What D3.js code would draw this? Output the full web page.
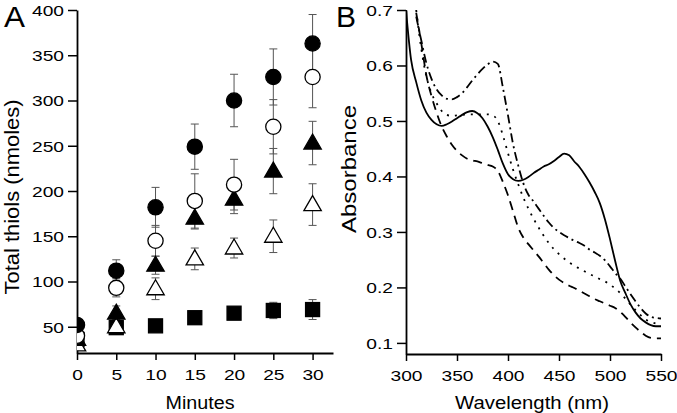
<!DOCTYPE html>
<html><head><meta charset="utf-8">
<script src="https://cdn.jsdelivr.net/npm/d3@7"></script>
<style>
body{margin:0;background:#fff}
svg{display:block}
text{font-family:"Liberation Sans",Arial,Helvetica,sans-serif;fill:#000}
</style>
</head><body>
<svg id="c" width="677" height="413"></svg>
<script>
// ---------- Panel A data ----------
const minutes = [0, 5, 10, 15, 20, 25, 30];
const filledCircle    = [52, 112, 182, 249, 300, 326, 363];
const filledCircleErr = [0, 12, 22, 25, 29, 31, 32];
const openCircle      = [40, 93, 145, 189, 207, 271, 326];
const openCircleErr   = [0, 10, 17, 30, 28, 30, 34];
const filledTriangle    = [36, 65, 118, 170, 191, 222, 253];
const filledTriangleErr = [0, 8, 10, 12, 16, 25, 24];
const openTriangle    = [30, 50, 92, 125, 137, 150, 185];
const openTriangleErr = [0, 8, 12, 12, 11, 18, 23];
const filledSquare    = [36, 49, 51, 60, 65, 68, 69];
const filledSquareErr = [0, 3, 3, 3, 3, 9, 11];
const minuteTicks = [0, 5, 10, 15, 20, 25, 30];
const thiolTicks = [50, 100, 150, 200, 250, 300, 350, 400];

// ---------- Panel B data ----------
const wavelength = [300,305,310,315,320,325,330,335,340,345,350,355,360,365,370,375,380,385,390,395,400,405,410,415,420,425,430,435,440,445,450,455,460,465,470,475,480,485,490,495,500,505,510,515,520,525,530,535,540,545,550];
const solidSpec = [0.700,0.610,0.570,0.537,0.515,0.502,0.494,0.491,0.494,0.499,0.505,0.511,0.516,0.518,0.514,0.505,0.490,0.471,0.448,0.423,0.404,0.395,0.392,0.394,0.399,0.406,0.412,0.418,0.422,0.428,0.435,0.441,0.438,0.427,0.417,0.404,0.389,0.372,0.352,0.323,0.287,0.248,0.212,0.190,0.170,0.155,0.144,0.137,0.132,0.130,0.130];
const dashedSpec = [null,null,0.695,0.640,0.582,0.545,0.515,0.490,0.472,0.457,0.446,0.438,0.432,0.429,0.427,0.424,0.421,0.418,0.410,0.390,0.366,0.337,0.308,0.290,0.278,0.267,0.256,0.244,0.232,0.222,0.214,0.208,0.203,0.199,0.194,0.189,0.184,0.179,0.175,0.171,0.167,0.163,0.156,0.147,0.137,0.128,0.120,0.113,0.109,0.108,0.108];
const dashDotSpec = [null,null,0.688,0.645,0.604,0.576,0.557,0.546,0.540,0.539,0.543,0.550,0.561,0.573,0.584,0.594,0.602,0.607,0.603,0.560,0.510,0.458,0.420,0.388,0.367,0.355,0.342,0.329,0.317,0.307,0.300,0.294,0.289,0.284,0.280,0.275,0.268,0.263,0.257,0.249,0.238,0.226,0.216,0.202,0.188,0.175,0.163,0.153,0.147,0.145,0.144];
const dottedSpec = [null,null,0.700,0.630,0.580,0.550,0.532,0.518,0.511,0.509,0.510,0.511,0.512,0.512,0.512,0.512,0.512,0.510,0.500,0.474,0.442,0.412,0.386,0.362,0.342,0.324,0.308,0.293,0.280,0.269,0.260,0.252,0.245,0.239,0.234,0.229,0.224,0.220,0.215,0.211,0.205,0.198,0.190,0.180,0.169,0.159,0.150,0.142,0.138,0.135,0.134];
const wlTicks = [300, 350, 400, 450, 500, 550];
const absTicks = [0.1, 0.2, 0.3, 0.4, 0.5, 0.6, 0.7];

const svg = d3.select("#c");
const TS = "scale(1.28,1)";

// ================= Panel A =================
const xA = d3.scaleLinear().domain([0, 32.6]).range([77, 333]);
const yA = d3.scaleLinear().domain([21, 400]).range([353, 10]);

svg.append("defs").append("clipPath").attr("id","clipA")
  .append("rect").attr("x",77).attr("y",0).attr("width",270).attr("height",353);
svg.select("defs").append("clipPath").attr("id","clipB")
  .append("rect").attr("x",406).attr("y",10).attr("width",256).attr("height",344);

const gA = svg.append("g");
const axA = gA.append("g").attr("transform","translate(0,353)")
  .call(d3.axisBottom(xA).tickValues(minuteTicks).tickSize(7).tickSizeOuter(0).tickFormat(d3.format("d")));
const ayA = gA.append("g").attr("transform","translate(77,0)")
  .call(d3.axisLeft(yA).tickValues(thiolTicks).tickSize(9).tickSizeOuter(0).tickFormat(d3.format("d")));

const series = [
  {v: filledSquare, e: filledSquareErr, shape: "square", fill: "#000"},
  {v: openTriangle, e: openTriangleErr, shape: "tri", fill: "#fff"},
  {v: filledTriangle, e: filledTriangleErr, shape: "tri", fill: "#000"},
  {v: openCircle, e: openCircleErr, shape: "circle", fill: "#fff"},
  {v: filledCircle, e: filledCircleErr, shape: "circle", fill: "#000"}
];
const plotA = gA.append("g").attr("clip-path","url(#clipA)");
// error bars
series.forEach(s => {
  const eb = plotA.append("g").attr("stroke","#555").attr("stroke-width",1).attr("fill","none");
  minutes.forEach((m,i) => {
    if (!s.e[i]) return;
    const x = xA(m), y1 = yA(s.v[i]-s.e[i]), y2 = yA(s.v[i]+s.e[i]);
    eb.append("line").attr("x1",x).attr("x2",x).attr("y1",y1).attr("y2",y2);
    eb.append("line").attr("x1",x-4).attr("x2",x+4).attr("y1",y1).attr("y2",y1);
    eb.append("line").attr("x1",x-4).attr("x2",x+4).attr("y1",y2).attr("y2",y2);
  });
});
series.forEach(s => {
  const g = plotA.append("g").attr("fill", s.fill).attr("stroke","#000").attr("stroke-width",1.3);
  minutes.forEach((m,i) => {
    const x = xA(m), y = yA(s.v[i]);
    if (s.shape === "circle") g.append("circle").attr("cx",x).attr("cy",y).attr("r",7.6);
    else if (s.shape === "square") g.append("rect").attr("x",x-7).attr("y",y-7).attr("width",14).attr("height",14);
    else g.append("path").attr("d",`M${x},${y-9}L${x+8.7},${y+6}L${x-8.7},${y+6}Z`);
  });
});

// ================= Panel B =================
const xB = d3.scaleLinear().domain([300, 550]).range([406, 661]);
const yB = d3.scaleLinear().domain([0.08, 0.7]).range([354, 10]);
const gB = svg.append("g");
const axB = gB.append("g").attr("transform","translate(0,354)")
  .call(d3.axisBottom(xB).tickValues(wlTicks).tickSize(7).tickSizeOuter(0).tickFormat(d3.format("d")));
const ayB = gB.append("g").attr("transform","translate(406,0)")
  .call(d3.axisLeft(yB).tickValues(absTicks).tickSize(9).tickSizeOuter(0).tickFormat(d3.format(".1f")));

const lines = [
  {v: dashedSpec, dash: "9,6"},
  {v: dottedSpec, dash: "2,6"},
  {v: dashDotSpec, dash: "9,4,2,4"},
  {v: solidSpec, dash: null}
];
const plotB = gB.append("g").attr("clip-path","url(#clipB)");
lines.forEach(l => {
  const gen = d3.line().defined(d => d[1] !== null)
    .x(d => xB(d[0])).y(d => yB(d[1])).curve(d3.curveMonotoneX);
  plotB.append("path").datum(wavelength.map((w,i) => [w, l.v[i]]))
    .attr("d", gen).attr("fill","none").attr("stroke","#000")
    .attr("stroke-width", 1.8).attr("stroke-dasharray", l.dash);
});

// ---------- axis styling ----------
[axA, ayA, axB, ayB].forEach(a => {
  a.select(".domain").attr("stroke","#000").attr("stroke-width",1.8);
  a.selectAll(".tick line").attr("stroke","#000").attr("stroke-width",1.5);
  a.selectAll(".tick text").attr("font-size",15).attr("font-family",null);
});
[axA, axB].forEach(a => a.selectAll(".tick text").attr("y",0).attr("dy",null)
  .attr("transform","translate(0,27) " + TS));
[ayA, ayB].forEach(a => a.selectAll(".tick text").attr("x",0).attr("dy","0.35em")
  .attr("transform","translate(-13,0) " + TS));

// ---------- titles ----------
function title(x, y, txt, size, len, rot) {
  const t = svg.append("text").attr("font-size", size).attr("text-anchor","middle")
    .attr("transform", `translate(${x},${y})` + (rot ? " rotate(-90)" : ""))
    .attr("textLength", len).attr("lengthAdjust","spacingAndGlyphs").text(txt);
  return t;
}
title(200, 409, "Minutes", 18, 69, false);
title(532, 409, "Wavelength (nm)", 17.5, 154, false);
title(19, 197, "Total thiols (nmoles)", 21, 195, true);
title(356, 169, "Absorbance", 20, 128, true);
svg.append("text").attr("x",4).attr("y",27).attr("font-size",29).attr("textLength",21).attr("lengthAdjust","spacingAndGlyphs").text("A");
svg.append("text").attr("x",336).attr("y",27).attr("font-size",29).attr("textLength",20).attr("lengthAdjust","spacingAndGlyphs").text("B");
</script>
</body></html>
